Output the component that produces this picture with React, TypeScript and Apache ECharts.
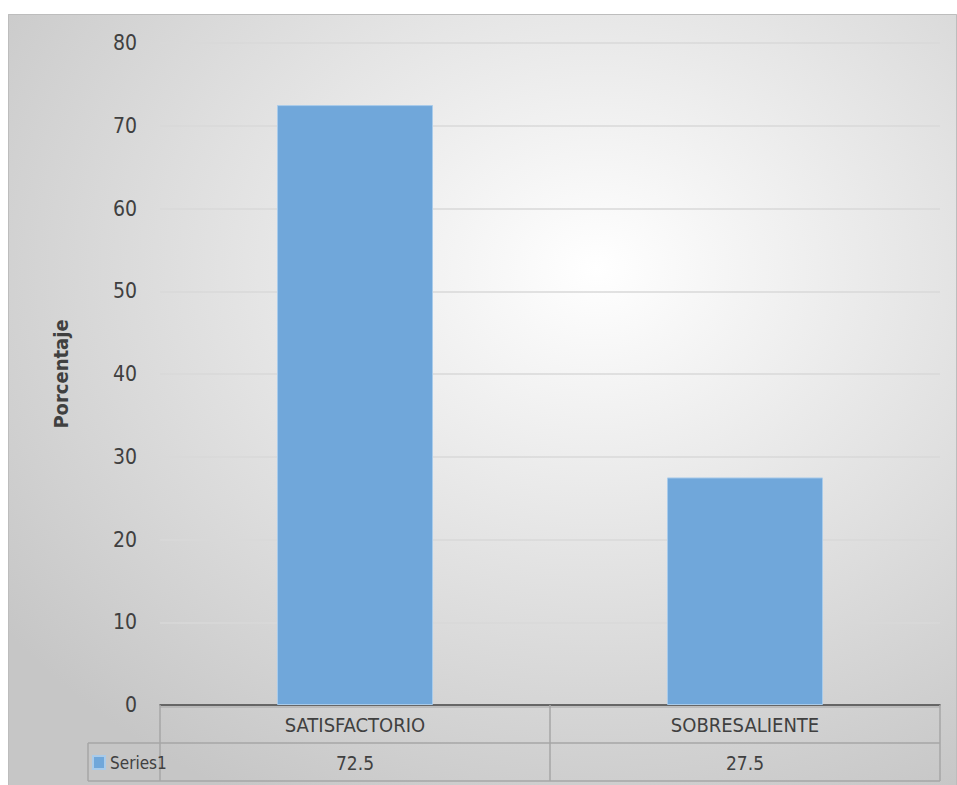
import React, { useEffect, useRef } from "react";
import * as echarts from "echarts";

const categories = ["SATISFACTORIO", "SOBRESALIENTE"];
const seriesName = "Series1";
const values = [72.5, 27.5];
const yMin = 0;
const yMax = 80;
const yInterval = 10;

const FONT = "'DejaVu Sans Condensed', 'Liberation Sans', sans-serif";

export default function App() {
  const ref = useRef<HTMLDivElement>(null);
  useEffect(() => {
    if (!ref.current) return;
    const chart = echarts.init(ref.current, undefined, { renderer: "svg" });
    const W = 949;
    const H = 771;
    const left = 152;
    const right = 17;
    const bottom = 80;
    const axisY = H - bottom;
    const tableLeft = 80;
    const tableRight = W - right;
    const row2Top = axisY + 38;
    const row2Bottom = H - 4;
    const lineStyle = { stroke: "#a6a6a6", lineWidth: 1 };
    chart.setOption({
      animation: false,
      backgroundColor: {
        type: "radial",
        x: 0.62,
        y: 0.33,
        r: 0.78,
        colorStops: [
          { offset: 0, color: "#ffffff" },
          { offset: 1, color: "#c6c6c6" },
        ],
      },
      textStyle: { fontFamily: FONT },
      grid: { left, right, top: 29, bottom },
      legend: {
        data: [seriesName],
        left: tableLeft + 4,
        top: row2Top + 11,
        itemWidth: 12,
        itemHeight: 13,
        itemGap: 3,
        icon: "rect",
        textStyle: { fontSize: 17, color: "#404040", fontFamily: FONT },
        padding: 0,
        selectedMode: false,
      },
      xAxis: [
        {
          type: "category",
          data: categories,
          position: "bottom",
          axisLine: { show: true, lineStyle: { color: "#404040", width: 1.5 } },
          axisTick: {
            show: true,
            length: row2Bottom - axisY,
            interval: 0,
            lineStyle: { color: "#a6a6a6", width: 1.5 },
          },
          axisLabel: { margin: 10, fontSize: 20, color: "#404040", fontFamily: FONT, interval: 0 },
          splitLine: { show: false },
        },
        {
          type: "category",
          data: values.map((v) => String(v)),
          position: "bottom",
          axisLine: { show: false },
          axisTick: { show: false },
          axisLabel: { margin: 48, fontSize: 19, color: "#404040", fontFamily: FONT, interval: 0 },
        },
      ],
      yAxis: {
        type: "value",
        min: yMin,
        max: yMax,
        interval: yInterval,
        name: "Porcentaje",
        nameLocation: "middle",
        nameGap: 89,
        nameTextStyle: { fontSize: 20, fontWeight: "bold", color: "#404040", fontFamily: FONT },
        axisLine: { show: false },
        axisTick: { show: false },
        axisLabel: { margin: 23, fontSize: 21, color: "#404040", fontFamily: FONT },
        splitLine: { lineStyle: { color: "#d9d9d9", width: 1.5 } },
      },
      series: [
        {
          name: seriesName,
          type: "bar",
          data: values,
          xAxisIndex: 0,
          barWidth: "40%",
          itemStyle: { color: "#70a7da", borderColor: "#a9cbea", borderWidth: 1 },
        },
      ],
      graphic: [
        { type: "rect", shape: { x: 0.5, y: 0.5, width: W - 1, height: H }, style: { fill: "none", stroke: "#bdbdbd", lineWidth: 1 }, silent: true },
        { type: "line", shape: { x1: left, y1: axisY + 2, x2: tableRight, y2: axisY + 2 }, style: lineStyle, silent: true },
        { type: "line", shape: { x1: tableLeft, y1: row2Top, x2: tableRight, y2: row2Top }, style: { ...lineStyle, lineWidth: 1.5 }, silent: true },
        { type: "line", shape: { x1: tableLeft, y1: row2Bottom, x2: tableRight, y2: row2Bottom }, style: { ...lineStyle, lineWidth: 1.5 }, silent: true },
        { type: "line", shape: { x1: tableLeft, y1: row2Top, x2: tableLeft, y2: row2Bottom }, style: { ...lineStyle, lineWidth: 1.5 }, silent: true },
      ],
    });
    return () => chart.dispose();
  }, []);
  return (
    <div
      ref={ref}
      style={{ position: "absolute", left: 8, top: 14, width: 949, height: 771 }}
    />
  );
}
